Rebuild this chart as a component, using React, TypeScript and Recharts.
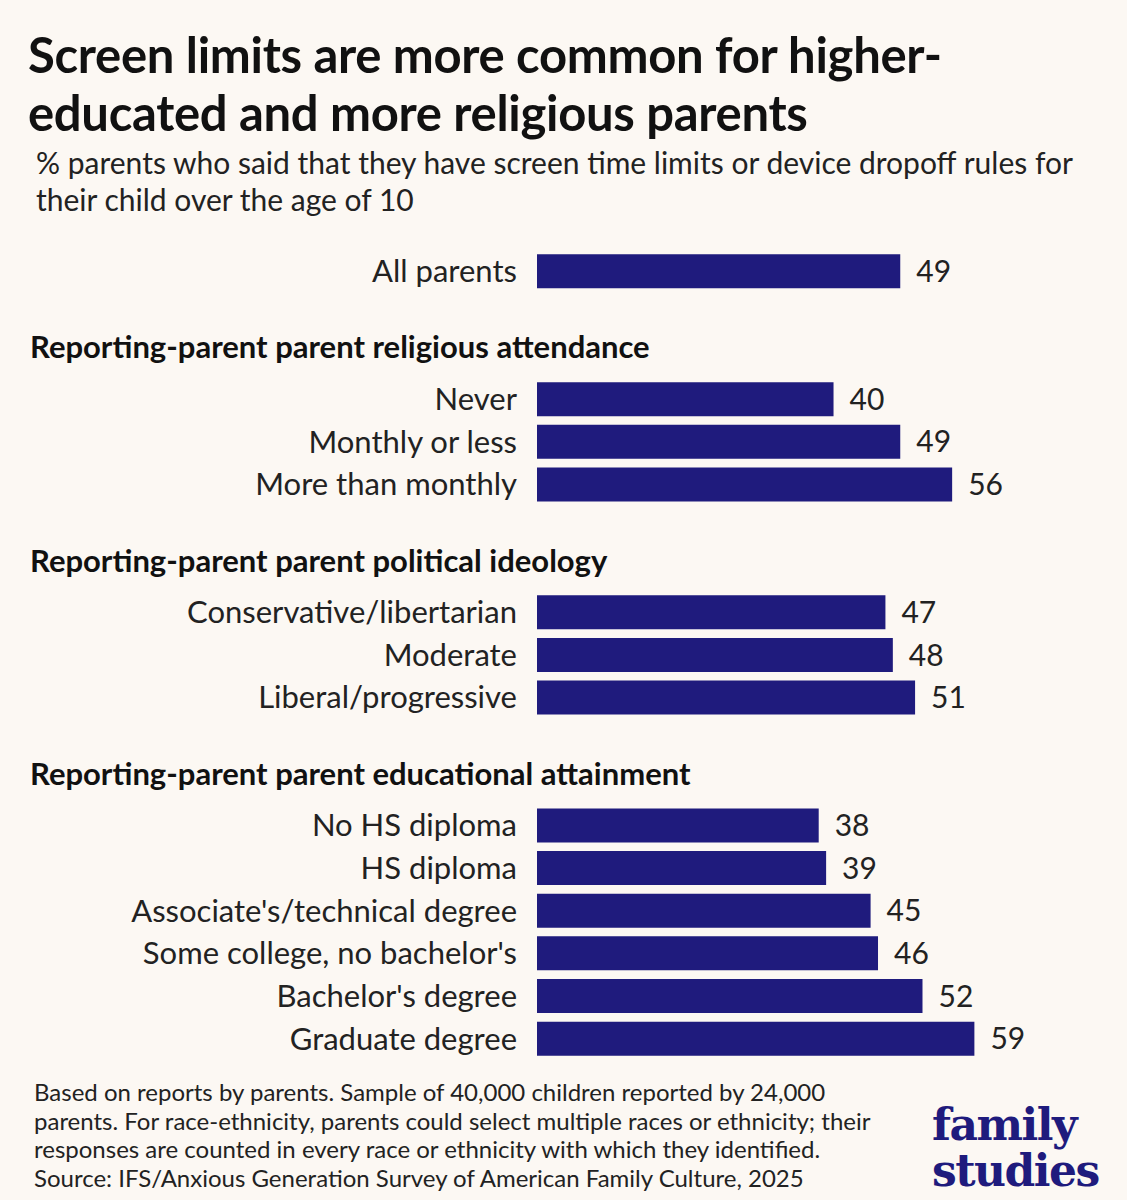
import { Bar, BarChart, LabelList, XAxis, YAxis } from "recharts";

const headers = [
  "",
  "Reporting-parent parent religious attendance",
  "Reporting-parent parent political ideology",
  "Reporting-parent parent educational attainment",
];
const groupLabels = [
  ["All parents"],
  ["Never", "Monthly or less", "More than monthly"],
  ["Conservative/libertarian", "Moderate", "Liberal/progressive"],
  [
    "No HS diploma",
    "HS diploma",
    "Associate's/technical degree",
    "Some college, no bachelor's",
    "Bachelor's degree",
    "Graduate degree",
  ],
];
const groupValues = [[49], [40, 49, 56], [47, 48, 51], [38, 39, 45, 46, 52, 59]];

type Row = { key: string; name: string; header: string; value: number | null };
const rows: Row[] = [];
groupLabels.forEach((labels, g) => {
  if (g > 0) {
    rows.push({ key: `gap${g}`, name: "", header: "", value: null });
    rows.push({ key: `h${g}`, name: "", header: headers[g], value: null });
  }
  labels.forEach((l, i) => rows.push({ key: l, name: l, header: "", value: groupValues[g][i] }));
});

const FONT = "Lato, 'Open Sans', sans-serif";

const Tick = (props: any) => {
  const { x, y, payload } = props;
  const row = rows.find((r) => r.key === payload.value);
  if (!row) return null;
  if (row.header)
    return (
      <text x={30} y={y - 9} dy="0.35em" fontSize={31} fontWeight={700} fill="#111" fontFamily={FONT}>
        {row.header}
      </text>
    );
  return (
    <text x={x} y={y} dy="0.35em" textAnchor="end" fontSize={31} fill="#222" fontFamily={FONT}>
      {row.name}
    </text>
  );
};

export default function App() {
  return (
    <div style={{ position: "relative", width: 1127, height: 1200, background: "#fcf8f3", fontFamily: FONT, color: "#111" }}>
      <style>{`body{margin:0}`}</style>
      <div style={{ position: "absolute", left: 28, top: 25, fontSize: 49, fontWeight: 700, lineHeight: "58px", width: 1100, letterSpacing: -0.3 }}>
        Screen limits are more common for higher-
        <br />
        educated and more religious parents
      </div>
      <div style={{ position: "absolute", left: 36, top: 144, fontSize: 30, lineHeight: "37px", color: "#222" }}>
        % parents who said that they have screen time limits or device dropoff rules for
        <br />
        their child over the age of 10
      </div>
      <BarChart
        width={1127}
        height={1200}
        data={rows}
        layout="vertical"
        margin={{ top: 250, bottom: 140, left: 0, right: 34 }}
        barCategoryGap="10%"
      >
        <XAxis type="number" domain={[0, 75]} hide />
        <YAxis
          type="category"
          dataKey="key"
          width={537}
          axisLine={false}
          tickLine={false}
          tick={<Tick />}
          tickMargin={14}
          interval={0}
        />
        <Bar dataKey="value" fill="#1f1b7d" isAnimationActive={false}>
          <LabelList dataKey="value" position="right" offset={16} fontSize={30} fill="#222" fontFamily={FONT} />
        </Bar>
      </BarChart>
      <div style={{ position: "absolute", left: 34, top: 1078, fontSize: 24, lineHeight: "28.5px", color: "#222" }}>
        Based on reports by parents. Sample of 40,000 children reported by 24,000
        <br />
        parents. For race-ethnicity, parents could select multiple races or ethnicity; their
        <br />
        responses are counted in every race or ethnicity with which they identified.
        <br />
        Source: IFS/Anxious Generation Survey of American Family Culture, 2025
      </div>
      <div style={{ position: "absolute", left: 932, top: 1102, fontFamily: "'DejaVu Serif', 'Liberation Serif', serif", fontWeight: 700, fontSize: 44, lineHeight: "46px", color: "#1f1b7d", letterSpacing: -1.5 }}>
        family
        <br />
        studies
      </div>
    </div>
  );
}
